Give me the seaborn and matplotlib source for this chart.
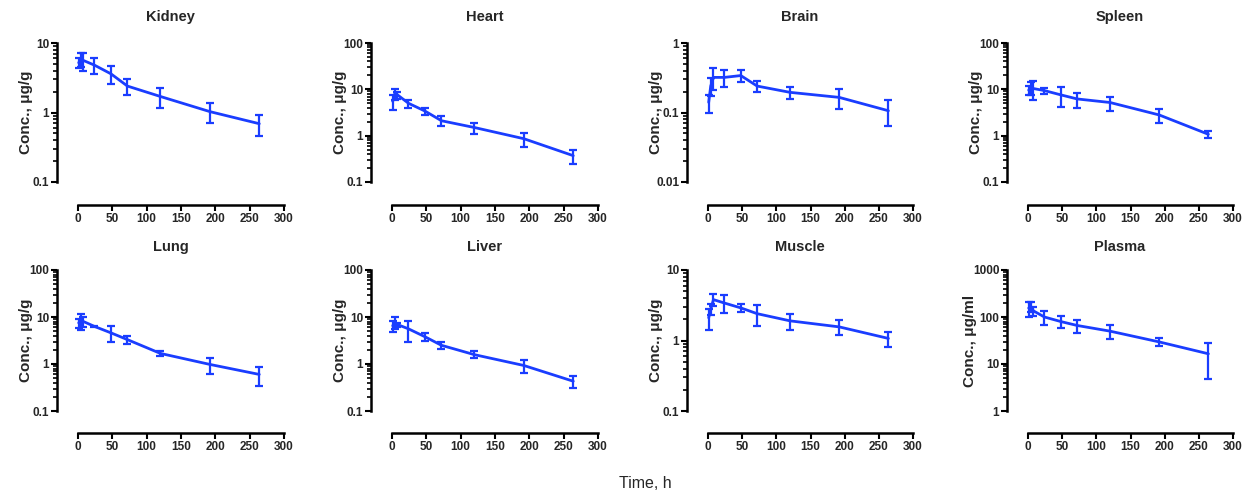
import numpy as np
import matplotlib
matplotlib.use("Agg")
import matplotlib.pyplot as plt
import matplotlib.ticker as mticker
import seaborn as sns

# sampling times (h)
time = [1, 4, 8, 24, 48, 72, 120, 192, 264]

organs = ["Kidney", "Heart", "Brain", "Spleen", "Lung", "Liver", "Muscle", "Plasma"]

# mean concentration and SD per organ
kidney_mean = [5.2, 5.8, 5.6, 4.8, 3.6, 2.4, 1.7, 1.03, 0.69]
kidney_sd = [0.9, 1.3, 1.6, 1.2, 1.05, 0.6, 0.55, 0.32, 0.23]
heart_mean = [5.5, 8.0, 7.6, 5.0, 3.4, 2.1, 1.5, 0.86, 0.37]
heart_sd = [1.9, 2.0, 1.3, 1.0, 0.55, 0.5, 0.4, 0.28, 0.13]
brain_mean = [0.14, 0.24, 0.32, 0.32, 0.34, 0.24, 0.195, 0.165, 0.106]
brain_sd = [0.04, 0.07, 0.11, 0.085, 0.065, 0.045, 0.04, 0.053, 0.043]
spleen_mean = [9.6, 11.0, 10.4, 9.4, 7.6, 6.2, 5.2, 2.8, 1.07]
spleen_sd = [2.2, 3.5, 4.5, 1.3, 3.5, 2.2, 1.8, 0.95, 0.2]
lung_mean = [7.5, 8.6, 8.0, 6.3, 4.6, 3.3, 1.68, 0.98, 0.6]
lung_sd = [1.6, 3.2, 1.8, 0.2, 1.7, 0.7, 0.22, 0.37, 0.26]
liver_mean = [6.5, 7.8, 6.9, 5.6, 3.8, 2.5, 1.58, 0.93, 0.43]
liver_sd = [1.7, 2.2, 0.7, 2.7, 0.7, 0.4, 0.27, 0.3, 0.12]
muscle_mean = [2.1, 2.8, 3.8, 3.4, 2.9, 2.4, 1.9, 1.56, 1.07]
muscle_sd = [0.7, 0.5, 0.75, 0.95, 0.4, 0.8, 0.5, 0.38, 0.25]
plasma_mean = [155, 170, 135, 100, 80, 66, 50, 29.5, 16.5]
plasma_sd = [55, 40, 32, 33, 23, 20, 16, 5.5, 11.8]

means = [kidney_mean, heart_mean, brain_mean, spleen_mean,
         lung_mean, liver_mean, muscle_mean, plasma_mean]
sds = [kidney_sd, heart_sd, brain_sd, spleen_sd,
       lung_sd, liver_sd, muscle_sd, plasma_sd]

# y-axis decade range for each panel
y_lows = [0.1, 0.1, 0.01, 0.1, 0.1, 0.1, 0.1, 1]
y_highs = [10, 100, 1, 100, 100, 100, 10, 1000]
y_labels = ["Conc., μg/g"] * 7 + ["Conc., μg/ml"]

sns.set_theme(style="ticks")
plt.rcParams["font.family"] = ["Liberation Sans", "DejaVu Sans"]

blue = "#1a3dff"
W, H = 1258, 495
fig = plt.figure(figsize=(W / 100, H / 100), dpi=100)

col_left = [57, 371, 687, 1007]
col_right = [284, 598, 913, 1233]
# (axis top, y-spine bottom, x-axis line) in pixels per row
rows = [(43, 182, 205), (270, 411, 433)]
x0_gap = 21  # px between y spine and x=0

for i, organ in enumerate(organs):
    r, c = divmod(i, 4)
    top, ybot, xline = rows[r]
    left, right = col_left[c], col_right[c]
    ax = fig.add_axes([left / W, 1 - xline / H, (right - left) / W, (xline - top) / H])

    sns.lineplot(x=time, y=means[i], ax=ax, color=blue, linewidth=2)
    ax.errorbar(time, means[i], yerr=sds[i], fmt="none", ecolor=blue,
                elinewidth=1.6, capsize=3, capthick=1.6)

    ax.set_yscale("log")
    ndec = np.log10(y_highs[i] / y_lows[i])
    frac = (xline - ybot) / (ybot - top)
    ax.set_ylim(y_lows[i] * 10 ** (-frac * ndec), y_highs[i])
    span = 300 * (right - left) / (right - left - x0_gap)
    ax.set_xlim(300 - span, 300)

    ax.set_xticks([0, 50, 100, 150, 200, 250, 300])
    decs = 10.0 ** np.arange(np.log10(y_lows[i]), np.log10(y_highs[i]) + 0.5)
    ax.set_yticks(decs)
    ax.yaxis.set_major_formatter(mticker.FuncFormatter(lambda v, p: f"{v:g}"))
    minors = [d * k for d in decs[:-1] for k in range(2, 10)]
    ax.yaxis.set_minor_locator(mticker.FixedLocator(minors))
    ax.yaxis.set_minor_formatter(mticker.NullFormatter())
    ax.xaxis.set_minor_locator(mticker.NullLocator())

    for s in ["top", "right"]:
        ax.spines[s].set_visible(False)
    ax.spines["left"].set_bounds(y_lows[i], y_highs[i])
    ax.spines["bottom"].set_bounds(0, 300)
    ax.spines["left"].set_linewidth(1.8)
    ax.spines["bottom"].set_linewidth(1.8)
    ax.spines["left"].set_color("black")
    ax.spines["bottom"].set_color("black")

    ax.tick_params(axis="both", which="major", length=4, width=1.5, color="black",
                   labelsize=8.5, pad=1.5)
    ax.tick_params(axis="y", which="minor", length=3, width=1.2, color="black")
    for lab in ax.get_xticklabels() + ax.get_yticklabels():
        lab.set_fontweight("bold")

    ax.set_xlabel("")
    ax.set_ylabel(y_labels[i], fontsize=11, fontweight="bold")
    lab_y = 1 - ((ybot - top) / 2) / (xline - top)
    lab_off = 30 if y_highs[i] >= 1000 else 24
    ax.yaxis.set_label_coords(-lab_off / (right - left), lab_y)
    ax.set_title(organ, fontsize=10.5, fontweight="bold", pad=16 if r == 0 else 14)
    ax.set_facecolor("none")

fig.text(645 / W, 1 - 483 / H, "Time, h", ha="center", va="center", fontsize=11.5)

fig.savefig("out.png", dpi=100)
